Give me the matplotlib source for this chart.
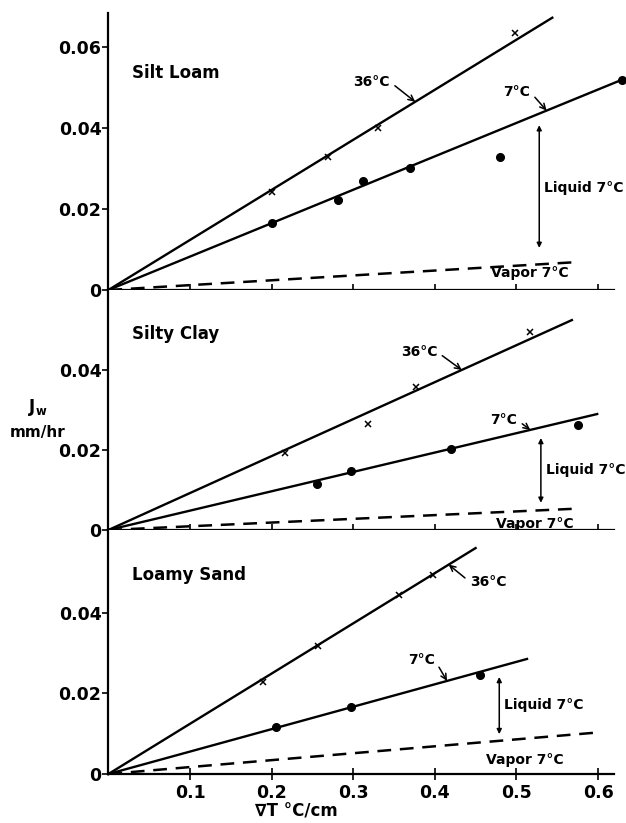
import matplotlib
matplotlib.use("Agg")
import matplotlib.pyplot as plt
import numpy as np

plt.rcParams['font.family'] = ['DejaVu Sans']
plt.rcParams['font.weight'] = 'bold'

# Silt Loam
silt_x36 = [0.201, 0.269, 0.330, 0.498]
silt_y36 = [0.0242, 0.0328, 0.0400, 0.0635]
silt_x7 = [0.201, 0.281, 0.312, 0.369, 0.480, 0.629]
silt_y7 = [0.0165, 0.0222, 0.0269, 0.0301, 0.0328, 0.0519]
# Silty Clay
clay_x36 = [0.216, 0.318, 0.377, 0.517]
clay_y36 = [0.0193, 0.0265, 0.0358, 0.0495]
clay_x7 = [0.256, 0.297, 0.420, 0.575]
clay_y7 = [0.0115, 0.0148, 0.0203, 0.0263]
# Loamy Sand
sand_x36 = [0.189, 0.257, 0.356, 0.398]
sand_y36 = [0.0229, 0.0318, 0.0445, 0.0494]
sand_x7 = [0.205, 0.297, 0.455]
sand_y7 = [0.0117, 0.0166, 0.0246]

# fitted lines through origin: slope, x end
lines36 = [(0.1236, 0.544), (0.0924, 0.568), (0.1247, 0.450)]
lines7 = [(0.0825, 0.629), (0.0484, 0.599), (0.0557, 0.513)]
vapor7 = [(0.0120, 0.577), (0.0093, 0.571), (0.0172, 0.594)]

names = ["Silt Loam", "Silty Clay", "Loamy Sand"]
ytops = [0.0684, 0.060, 0.0606]
yticks = [[0, 0.02, 0.04, 0.06], [0, 0.02, 0.04], [0, 0.02, 0.04]]
xticks = [0.1, 0.2, 0.3, 0.4, 0.5, 0.6]

fig = plt.figure(figsize=(6.26, 8.23), dpi=100)
W, H = 626.0, 823.0
left = 108.4 / W
width = 0.635 * 816 / W
boxes = [(290, 277), (530, 240), (774, 244)]  # y0 pixel, height pixel

pts36 = [(silt_x36, silt_y36), (clay_x36, clay_y36), (sand_x36, sand_y36)]
pts7 = [(silt_x7, silt_y7), (clay_x7, clay_y7), (sand_x7, sand_y7)]

# annotation layout per panel
ann = [
    dict(t36=(0.345, 0.0514, 'right', 1), a36=0.376, t7=(0.517, 0.0489), a7=0.537,
         liq=(0.528, 0.0407, 0.0104, 0.0252), vap=(0.517, 0.0042), title=0.0536),
    dict(t36=(0.403, 0.0445, 'right', 1), a36=0.433, t7=(0.501, 0.0275), a7=0.517,
         liq=(0.530, 0.0230, 0.0068, 0.0150), vap=(0.522, 0.0016), title=0.049),
    dict(t36=(0.443, 0.0477, 'left', 0), a36=0.417, t7=(0.400, 0.0283), a7=0.415,
         liq=(0.479, 0.0241, 0.0099, 0.0171), vap=(0.510, 0.0035), title=0.0494),
]

for i in range(3):
    y0, hp = boxes[i]
    ax = fig.add_axes([left, 1 - y0 / H, width, hp / H])
    ax.set_xlim(0, 0.635)
    ax.set_ylim(0, ytops[i])
    for s in ['top', 'right']:
        ax.spines[s].set_visible(False)
    ax.spines['bottom'].set_bounds(0, 0.62)
    ax.spines['left'].set_linewidth(1.6)
    ax.spines['bottom'].set_linewidth(1.6)
    ax.set_xticks(xticks)
    ax.tick_params(axis='x', direction='inout', length=8, width=1.2)
    ax.set_yticks(yticks[i])
    ax.set_yticklabels(["0" if v == 0 else "%.2f" % v for v in yticks[i]], fontsize=12.5, fontweight='bold')
    ax.tick_params(axis='y', direction='out', length=4, width=1.2, pad=1)
    if i < 2:
        ax.set_xticklabels([])
    else:
        ax.set_xticklabels(["%.1f" % v for v in xticks], fontsize=12.5, fontweight='bold')

    k36, e36 = lines36[i]
    k7, e7 = lines7[i]
    kv, ev = vapor7[i]
    ax.plot([0, e36], [0, k36 * e36], color='black', lw=1.7, clip_on=False)
    ax.plot([0, e7], [0, k7 * e7], color='black', lw=1.7, clip_on=False)
    ax.plot([0, ev], [0, kv * ev], color='black', lw=1.8, dashes=(5.5, 3.5))
    ax.plot(pts36[i][0], pts36[i][1], 'x', color='black', ms=5, mew=1.1, clip_on=False)
    ax.plot(pts7[i][0], pts7[i][1], 'o', color='black', ms=5.5, clip_on=False)

    a = ann[i]
    tx, ty, ha, rp = a['t36']
    ax.annotate("36°C", xy=(a['a36'], k36 * a['a36']), xytext=(tx, ty), ha=ha, va='center',
                fontsize=10, fontweight='bold',
                arrowprops=dict(arrowstyle='->', lw=1.1, color='black', relpos=(rp, 0.5),
                                shrinkA=2, shrinkB=0))
    ax.annotate("7°C", xy=(a['a7'], k7 * a['a7']), xytext=a['t7'], ha='right', va='center',
                fontsize=10, fontweight='bold',
                arrowprops=dict(arrowstyle='->', lw=1.1, color='black', relpos=(1, 0.5),
                                shrinkA=2, shrinkB=0))
    lx, lt, lb, lty = a['liq']
    ax.annotate("", xy=(lx, lb), xytext=(lx, lt),
                arrowprops=dict(arrowstyle='<|-|>', lw=1.1, color='black',
                                mutation_scale=7, shrinkA=0, shrinkB=0))
    ax.text(lx + 0.006, lty, "Liquid 7°C", fontsize=10, fontweight='bold', ha='left', va='center')
    ax.text(a['vap'][0], a['vap'][1], "Vapor 7°C", fontsize=10, fontweight='bold',
            ha='center', va='center')
    ax.text(0.029, a['title'], names[i], fontsize=12, fontweight='bold', ha='left', va='center')

fig.text(38 / W, 1 - 407 / H, r"$\mathbf{J_w}$", fontsize=12, ha='center', va='center')
fig.text(38 / W, 1 - 433 / H, "mm/hr", fontsize=11, fontweight='bold', ha='center', va='center')
fig.text(296 / W, 1 - 812 / H, "∇T °C/cm", fontsize=12, fontweight='bold', ha='center', va='center')

fig.savefig("out.png", dpi=100)
